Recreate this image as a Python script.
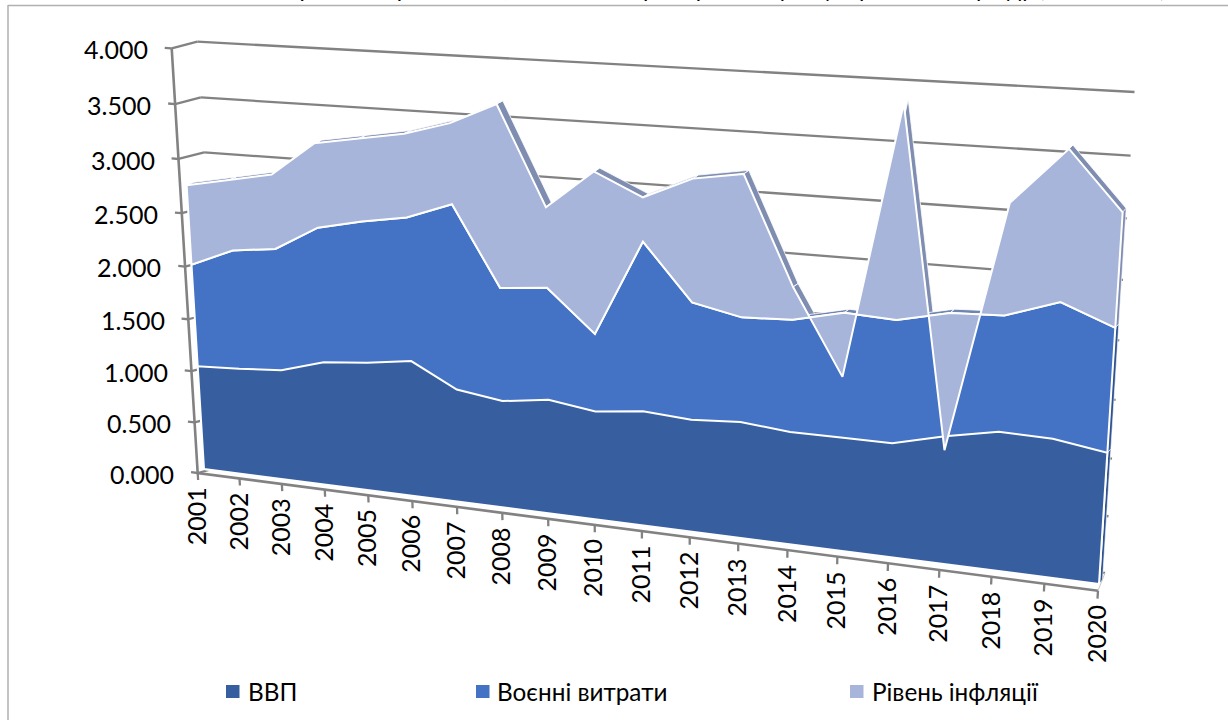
import numpy as np, plotly.graph_objects as go

years = list(range(2001, 2021))
gdp = [1.01,1.03,1.06,1.18,1.22,1.28,1.06,1.00,1.06,1.00,1.05,1.02,1.05,1.01,1.01,1.01,1.12,1.21,1.20,1.13]
military = [0.97,1.12,1.14,1.25,1.30,1.31,1.68,1.03,1.01,0.70,1.50,1.04,0.92,0.98,1.08,1.06,1.05,0.98,1.14,1.04]
inflation = [0.74,0.65,0.68,0.76,0.74,0.74,0.71,1.61,0.71,1.42,0.38,1.06,1.22,0.28,-0.55,1.78,-1.17,0.92,1.23,0.93]
y_ticks = [0,0.5,1,1.5,2,2.5,3,3.5,4]
names = ["ВВП", "Воєнні витрати", "Рівень інфляції"]
FONT = "Lato, Carlito, Open Sans, sans-serif"
C_DARK, C_MID, C_LIGHT = "#375F9F", "#4472C4", "#A7B5DA"
C_FACE, C_FACE2, C_FACE3 = "#7F8DB0", "#6F84AE", "#2F5390"
GRID = "#828282"

def hom(src, dst):
    A, b = [], []
    for (u, v), (x, y) in zip(src, dst):
        A.append([u,v,1,0,0,0,-u*x,-v*x]); b.append(x)
        A.append([0,0,0,u,v,1,-u*y,-v*y]); b.append(y)
    return np.append(np.linalg.solve(np.array(A,float), np.array(b,float)), 1).reshape(3,3)

CORN = [(0,0),(19,0),(0,4),(19,4)]
H_front = hom(CORN, [(204,469),(1099,584),(178,44),(1130,97)])
H_back = hom(CORN, [(211.5,466),(1102.5,580),(185.5,41),(1133.5,93)])
H_wall = hom(CORN, [(223.7,466),(1105,573),(197.3,41.7),(1134.5,92)])
H_axis = hom(CORN, [(197.7,473),(1098,590.7),(171.7,48.3),(1127.5,110)])

def pr(H, i, v):
    q = H @ np.array([i, v, 1.0])
    return q[0]/q[2], q[1]/q[2]
def path(H, pts):
    xy = [pr(H, i, v) for i, v in pts]
    return [p[0] for p in xy], [p[1] for p in xy]

n = len(years)
idx = list(range(n))
lev1 = list(np.array(gdp))
lev2 = list(np.array(gdp)+np.array(military))
lev3 = list(np.array(gdp)+np.array(military)+np.array(inflation))

fig = go.Figure()
def line(x, y, color=GRID, w=2.3):
    fig.add_trace(go.Scatter(x=x, y=y, mode="lines", line=dict(color=color, width=w), hoverinfo="skip", showlegend=False))
def poly(x, y, fill, lc="white", w=2):
    fig.add_trace(go.Scatter(x=x, y=y, mode="lines", fill="toself", fillcolor=fill, line=dict(color=lc, width=w, simplify=False), hoverinfo="skip", showlegend=False))

# back wall grid lines and their connectors to the axis
for v in y_ticks:
    x, y = path(H_wall, [(0,v),(19,v)])
    line(x, y)
    ax0 = pr(H_axis, 0, v); w0 = pr(H_wall, 0, v)
    line([ax0[0], w0[0]], [ax0[1], w0[1]])

# extruded top faces
def strip(levels, color):
    X, Y = [], []
    for i in range(n-1):
        fx, fy = path(H_front, [(i, levels[i]), (i+1, levels[i+1])])
        bx, by = path(H_back, [(i+1, levels[i+1]), (i, levels[i])])
        X += fx+bx+[fx[0], None]; Y += fy+by+[fy[0], None]
    poly(X, Y, color, w=0.8)
strip(lev3, C_FACE)
strip(lev2, C_FACE2)

# right end faces
for lo, hi, col in ((0, lev1[-1], C_FACE3), (lev1[-1], lev2[-1], C_FACE3), (lev2[-1], lev3[-1], C_FACE)):
    fx, fy = path(H_front, [(19,lo),(19,hi)])
    bx, by = path(H_back, [(19,hi),(19,lo)])
    poly(fx+bx+[fx[0]], fy+by+[fy[0]], col, w=0.6)

# front faces
x, y = path(H_front, [(0,0)]+list(zip(idx,lev2))+[(19,0),(0,0)])
poly(x, y, C_MID)
x, y = path(H_front, [(0,0)]+list(zip(idx,lev1))+[(19,0),(0,0)])
poly(x, y, C_DARK)
x, y = path(H_front, list(zip(idx,lev3))+list(zip(idx,lev2))[::-1]+[(0,lev3[0])])
poly(x, y, C_LIGHT)

# axes
x, y = path(H_axis, [(0,4),(0,0),(19,0)])
line(x, y, w=2.6)
a = pr(H_axis,19,0); b = pr(H_wall,19,0)
line([a[0],b[0]],[a[1],b[1]], color="#C8C8C8", w=1)

ann = []
def text(s, x, y, size=25, xa="center", ya="middle", angle=0, color="black"):
    ann.append(dict(text=s, x=x, y=y, xref="x", yref="y", showarrow=False, xanchor=xa, yanchor=ya,
                    textangle=angle, font=dict(family=FONT, size=size, color=color), borderpad=0, borderwidth=0))

for v in y_ticks:
    x, y = path(H_axis, [(0,v),(-0.16,v)])
    line(x, y)
    text(f"{v:.3f}", x[1]-17, y[1]+1.5, xa="right")
for i, yr in enumerate(years):
    x, y = path(H_axis, [(i,0),(i,-0.07)])
    line(x, y)
    text(str(yr), x[1]-2, y[1]+7, ya="top", angle=-90)

shapes = [
    dict(type="line", xref="x", yref="y", x0=8, x1=1228, y0=5.5, y1=5.5, line=dict(color="#B0B0B0", width=1.5)),
    dict(type="line", xref="x", yref="y", x0=8, x1=8, y0=5, y1=720, line=dict(color="#B0B0B0", width=1.5)),
]
for name, sx, tx, col in zip(names, (226,476,850), (248,497,872), (C_DARK,C_MID,C_LIGHT)):
    shapes.append(dict(type="rect", xref="x", yref="y", x0=sx, x1=sx+13.5, y0=685, y1=698, fillcolor=col, line=dict(width=0)))
    text(name, tx, 691.5, xa="left", size=24.3)

text("Порівняння рівня ВВП, воєнних витрат і рівня інфляції протягом періоду (2001-2020)", 1166, 2, xa="right", ya="bottom", size=23)

fig.update_layout(width=1228, height=720, margin=dict(l=0,r=0,t=0,b=0), paper_bgcolor="white", plot_bgcolor="white",
    xaxis=dict(range=[0,1228], visible=False, fixedrange=True), yaxis=dict(range=[720,0], visible=False, fixedrange=True),
    showlegend=False, annotations=ann, shapes=shapes)
fig.write_html("out.html", config=dict(displayModeBar=False), post_script="document.body.style.margin='0';document.documentElement.style.overflow='hidden';")
